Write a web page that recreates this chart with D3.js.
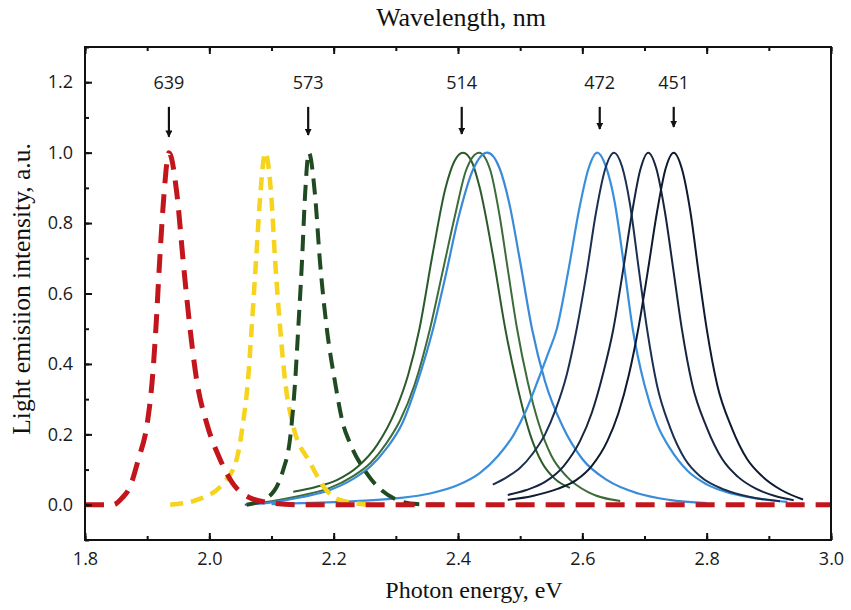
<!DOCTYPE html>
<html>
<head>
<meta charset="utf-8">
<script src="https://cdn.jsdelivr.net/npm/d3@7"></script>
<style>
  html, body { margin: 0; padding: 0; background: #fff; }
  .tick-label { font-family: "Open Sans", "DejaVu Sans", sans-serif; font-size: 18px; fill: #1a1a1a; }
  .axis-title { font-family: "Liberation Serif", "DejaVu Serif", serif; font-size: 24px; fill: #111; }
</style>
</head>
<body>
<div id="chart"></div>
<script>
// peak markers (photon energy of each arrow, and the wavelength it is labelled with)
const peakLabels = ['639', '573', '514', '472', '451'];
const peakEnergy = [1.935, 2.159, 2.406, 2.628, 2.747];
const arrowTip = [1.045, 1.05, 1.053, 1.067, 1.073];

const xTicks = [1.8, 2.0, 2.2, 2.4, 2.6, 2.8, 3.0];
const yTicks = [0.0, 0.2, 0.4, 0.6, 0.8, 1.0, 1.2];

// spectra, [eV, intensity]
const redSpec = [[1.80,0],[1.845,0],[1.86,0.02],[1.872,0.05],[1.886,0.13],[1.90,0.23],[1.908,0.35],[1.914,0.5],[1.92,0.69],[1.927,0.88],[1.935,1.0],[1.948,0.88],[1.958,0.69],[1.969,0.5],[1.98,0.35],[1.996,0.23],[2.017,0.13],[2.038,0.06],[2.065,0.02],[2.10,0.005],[2.14,0],[3.0,0]];
const yellowSpec = [[1.937,0],[1.98,0.014],[2.022,0.06],[2.044,0.13],[2.054,0.23],[2.062,0.35],[2.068,0.5],[2.075,0.69],[2.082,0.88],[2.09,1.0],[2.0995,0.88],[2.106,0.69],[2.114,0.5],[2.122,0.35],[2.134,0.23],[2.162,0.12],[2.189,0.04],[2.21,0.014],[2.26,0]];
const greenDashSpec = [[2.06,0],[2.093,0.02],[2.119,0.1],[2.13,0.19],[2.138,0.35],[2.143,0.5],[2.149,0.69],[2.154,0.88],[2.16,1.0],[2.17,0.88],[2.178,0.69],[2.189,0.5],[2.202,0.35],[2.215,0.23],[2.226,0.176],[2.253,0.09],[2.302,0.014],[2.334,0.002],[2.39,0]];
const greenA = [[2.135,0.037],[2.17,0.05],[2.205,0.07],[2.24,0.11],[2.27,0.17],[2.30,0.27],[2.32,0.37],[2.338,0.5],[2.359,0.71],[2.38,0.9],[2.394,0.975],[2.408,1.0],[2.422,0.975],[2.435,0.9],[2.456,0.71],[2.476,0.5],[2.495,0.34],[2.516,0.2],[2.535,0.12],[2.555,0.075],[2.58,0.048]];
const greenB = [[2.057,0],[2.10,0.01],[2.15,0.027],[2.194,0.048],[2.23,0.08],[2.26,0.12],[2.285,0.175],[2.307,0.24],[2.33,0.34],[2.355,0.5],[2.375,0.66],[2.395,0.82],[2.413,0.95],[2.434,1.0],[2.452,0.95],[2.467,0.82],[2.48,0.67],[2.495,0.5],[2.512,0.35],[2.53,0.23],[2.55,0.14],[2.575,0.08],[2.61,0.035],[2.661,0.011]];
const blueC = [[2.06,0],[2.10,0.007],[2.15,0.022],[2.194,0.042],[2.23,0.072],[2.26,0.11],[2.285,0.16],[2.31,0.23],[2.335,0.35],[2.36,0.5],[2.38,0.65],[2.40,0.81],[2.425,0.955],[2.447,1.0],[2.467,0.955],[2.482,0.86],[2.50,0.69],[2.519,0.5],[2.54,0.35],[2.569,0.22],[2.60,0.13],[2.64,0.07],[2.69,0.032],[2.74,0.014],[2.80,0.005]];
const blueD = [[2.10,0.002],[2.21,0.008],[2.30,0.018],[2.355,0.032],[2.40,0.056],[2.435,0.09],[2.465,0.14],[2.49,0.2],[2.51,0.27],[2.53,0.36],[2.545,0.43],[2.559,0.5],[2.578,0.67],[2.595,0.84],[2.61,0.955],[2.624,1.0],[2.638,0.96],[2.652,0.86],[2.667,0.68],[2.681,0.5],[2.70,0.34],[2.72,0.23],[2.741,0.16],[2.77,0.095],[2.80,0.058],[2.84,0.032],[2.88,0.018],[2.93,0.008]];
const navyE = [[2.456,0.057],[2.48,0.08],[2.50,0.105],[2.52,0.145],[2.54,0.2],[2.557,0.27],[2.575,0.37],[2.591,0.5],[2.607,0.66],[2.622,0.83],[2.637,0.955],[2.651,1.0],[2.664,0.96],[2.677,0.85],[2.69,0.68],[2.704,0.5],[2.72,0.34],[2.741,0.22],[2.765,0.13],[2.79,0.08],[2.83,0.042],[2.87,0.022],[2.918,0.01]];
const navyF = [[2.48,0.028],[2.51,0.042],[2.54,0.065],[2.57,0.11],[2.596,0.18],[2.615,0.26],[2.633,0.37],[2.65,0.5],[2.665,0.66],[2.68,0.83],[2.693,0.95],[2.706,1.0],[2.719,0.955],[2.733,0.83],[2.747,0.66],[2.76,0.5],[2.777,0.34],[2.80,0.22],[2.825,0.13],[2.85,0.08],[2.88,0.045],[2.91,0.025],[2.94,0.013]];
const navyG = [[2.48,0.014],[2.52,0.025],[2.56,0.045],[2.59,0.07],[2.615,0.11],[2.64,0.18],[2.658,0.26],[2.675,0.37],[2.69,0.5],[2.705,0.66],[2.72,0.83],[2.734,0.955],[2.747,1.0],[2.76,0.955],[2.774,0.83],[2.787,0.66],[2.80,0.5],[2.817,0.34],[2.84,0.22],[2.865,0.13],[2.89,0.08],[2.92,0.042],[2.955,0.015]];

// drawing order: solid curves first, dashed on top
let series = [
  { data: greenA, color: '#2b5a2b', width: 2, dash: null },
  { data: greenB, color: '#3c6c37', width: 2, dash: null },
  { data: blueC, color: '#3a8ad8', width: 2.2, dash: null },
  { data: blueD, color: '#3a8fdc', width: 2.2, dash: null },
  { data: navyE, color: '#1b2f52', width: 2, dash: null },
  { data: navyF, color: '#16243f', width: 2, dash: null },
  { data: navyG, color: '#0e1a31', width: 2, dash: null },
  { data: yellowSpec, color: '#f6d31c', width: 4.5, dash: '13,8' },
  { data: greenDashSpec, color: '#1f4a22', width: 4, dash: '16,9' },
  { data: redSpec, color: '#c3161c', width: 5, dash: '19,11' }
];

let svg, xScale, yScale, lineGen;
const W = 851, H = 610;
const plot = { left: 85, right: 831, top: 47, bottom: 540 };

function init() {
  svg = d3.select('#chart').append('svg')
    .attr('width', W).attr('height', H);

  xScale = d3.scaleLinear().domain([1.8, 3.0]).range([plot.left, plot.right]);
  yScale = d3.scaleLinear().domain([-0.1, 1.3]).range([plot.bottom, plot.top]);

  lineGen = d3.line()
    .x(d => xScale(d[0]))
    .y(d => yScale(d[1]))
    .curve(d3.curveMonotoneX);

  drawSeries();
  drawAxes();
  drawArrows();
  drawTitles();
}

function drawSeries() {
  svg.append('clipPath').attr('id', 'plot-clip')
    .append('rect')
    .attr('x', plot.left).attr('y', plot.top)
    .attr('width', plot.right - plot.left).attr('height', plot.bottom - plot.top);

  const grp = svg.append('g').attr('clip-path', 'url(#plot-clip)');
  series.forEach(s => {
    grp.append('path')
      .datum(s.data)
      .attr('d', lineGen)
      .attr('fill', 'none')
      .attr('stroke', s.color)
      .attr('stroke-width', s.width)
      .attr('stroke-dasharray', s.dash)
      .attr('stroke-linejoin', 'round');
  });
}

function drawAxes() {
  const minorX = d3.range(18, 31).map(v => v / 10);
  const minorY = d3.range(-1, 14).map(v => v / 10);

  // bottom
  const bottom = svg.append('g').attr('transform', `translate(0,${plot.bottom})`);
  bottom.call(d3.axisBottom(xScale).tickValues(xTicks).tickSize(-7).tickPadding(12).tickFormat(d3.format('.1f')));
  bottom.append('g').call(d3.axisBottom(xScale).tickValues(minorX).tickSize(-4).tickFormat(''));

  // top, ticks only
  const top = svg.append('g').attr('transform', `translate(0,${plot.top})`);
  top.call(d3.axisTop(xScale).tickValues(xTicks).tickSize(-7).tickFormat(''));
  top.append('g').call(d3.axisTop(xScale).tickValues(minorX).tickSize(-4).tickFormat(''));

  // left
  const left = svg.append('g').attr('transform', `translate(${plot.left},0)`);
  left.call(d3.axisLeft(yScale).tickValues(yTicks).tickSize(-7).tickPadding(12).tickFormat(d3.format('.1f')));
  left.append('g').call(d3.axisLeft(yScale).tickValues(minorY).tickSize(-4).tickFormat(''));

  svg.selectAll('.domain').remove();
  svg.selectAll('.tick line').attr('stroke', '#111').attr('stroke-width', 2);
  svg.selectAll('.tick text').attr('class', 'tick-label').attr('fill', null);

  // frame
  svg.append('rect')
    .attr('x', plot.left).attr('y', plot.top)
    .attr('width', plot.right - plot.left).attr('height', plot.bottom - plot.top)
    .attr('fill', 'none').attr('stroke', '#111').attr('stroke-width', 2);
}

function drawArrows() {
  svg.append('defs').append('marker')
    .attr('id', 'head')
    .attr('viewBox', '0 0 10 10')
    .attr('refX', 9).attr('refY', 5)
    .attr('markerWidth', 3.2).attr('markerHeight', 3.2)
    .attr('orient', 'auto')
    .append('path').attr('d', 'M0,0 L10,5 L0,10 z').attr('fill', '#111');

  const arrows = svg.append('g');
  peakEnergy.forEach((e, i) => {
    arrows.append('line')
      .attr('x1', xScale(e)).attr('x2', xScale(e))
      .attr('y1', yScale(1.13)).attr('y2', yScale(arrowTip[i]))
      .attr('stroke', '#111').attr('stroke-width', 2.2)
      .attr('marker-end', 'url(#head)');
    arrows.append('text')
      .attr('class', 'tick-label')
      .attr('x', xScale(e))
      .attr('y', yScale(1.2))
      .attr('dy', '0.35em')
      .attr('text-anchor', 'middle')
      .text(peakLabels[i]);
  });
}

function drawTitles() {
  svg.append('text').attr('class', 'axis-title')
    .attr('x', 461).attr('y', 26)
    .attr('text-anchor', 'middle')
    .style('font-size', '26px')
    .text('Wavelength, nm');

  svg.append('text').attr('class', 'axis-title')
    .attr('x', 474).attr('y', 598)
    .attr('text-anchor', 'middle')
    .text('Photon energy, eV');

  svg.append('text').attr('class', 'axis-title')
    .attr('transform', 'translate(30,289) rotate(-90)')
    .attr('text-anchor', 'middle')
    .style('font-size', '25.5px')
    .text('Light emisiion intensity, a.u.');
}

init();
</script>
</body>
</html>
